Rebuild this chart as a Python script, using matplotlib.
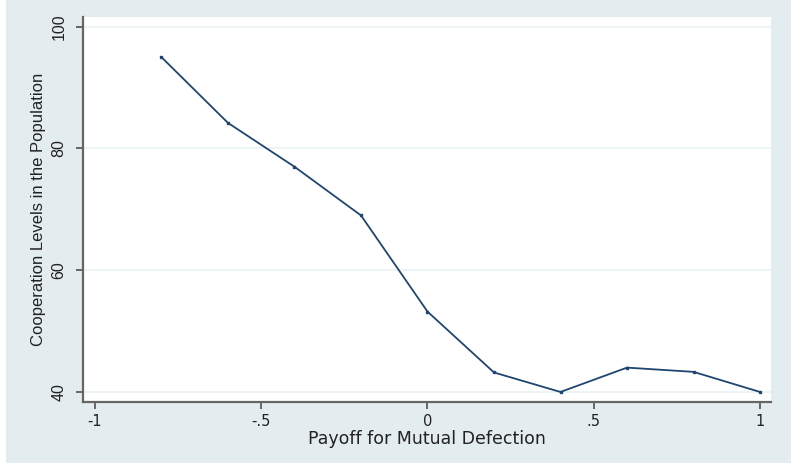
import matplotlib.pyplot as plt
from matplotlib.patches import Rectangle

# mutual defection payoff vs. share of cooperators
payoff = [-0.8, -0.6, -0.4, -0.2, 0.0, 0.2, 0.4, 0.6, 0.8, 1.0]
cooperation = [95.0, 84.2, 77.0, 69.0, 53.2, 43.2, 40.0, 44.0, 43.3, 40.0]

x_ticks = [-1, -0.5, 0, 0.5, 1]
x_tick_labels = ['-1', '-.5', '0', '.5', '1']
y_ticks = [40, 60, 80, 100]

bg = '#e3ecee'
navy = '#1f4670'
axis_gray = '#666666'

fig = plt.figure(figsize=(7.91, 4.63), dpi=100, facecolor=bg)
# thin white margin on the left edge
fig.patches.append(Rectangle((0, 0), 6 / 791, 1, transform=fig.transFigure,
                             facecolor='white', edgecolor='none', zorder=0))

ax = fig.add_axes([83 / 791, 61 / 463, 688 / 791, 385 / 463])
ax.set_facecolor('white')

ax.plot(payoff, cooperation, color=navy, linewidth=1.3, marker='s',
        markersize=1.7, markerfacecolor=navy, markeredgecolor=navy, zorder=3)

ax.set_xlim(-1.036, 1.033)
ax.set_ylim(38.35, 101.6)

ax.set_xticks(x_ticks)
ax.set_xticklabels(x_tick_labels, family='DejaVu Sans', fontsize=10.5)
ax.set_yticks(y_ticks)
ax.set_yticklabels([str(v) for v in y_ticks], rotation=90, va='center',
                   family='Liberation Sans', fontsize=11.5)

ax.grid(axis='y', color='#eaf2f3', linewidth=1.2, zorder=0)
ax.set_axisbelow(True)

for side in ('top', 'right'):
    ax.spines[side].set_visible(False)
for side in ('left', 'bottom'):
    ax.spines[side].set_color(axis_gray)
    ax.spines[side].set_linewidth(1.6)

ax.tick_params(axis='both', colors=axis_gray, length=5, width=1.4,
               labelcolor='#222222')
ax.tick_params(axis='x', pad=4)
ax.tick_params(axis='y', pad=7)

ax.set_xlabel('Payoff for Mutual Defection', family='DejaVu Sans',
              fontsize=12.5, color='#222222', labelpad=0)
ax.set_ylabel('Cooperation Levels in the Population', family='Liberation Sans',
              fontsize=12, color='#222222', labelpad=4)

fig.savefig('out.png', dpi=100, facecolor=bg)
